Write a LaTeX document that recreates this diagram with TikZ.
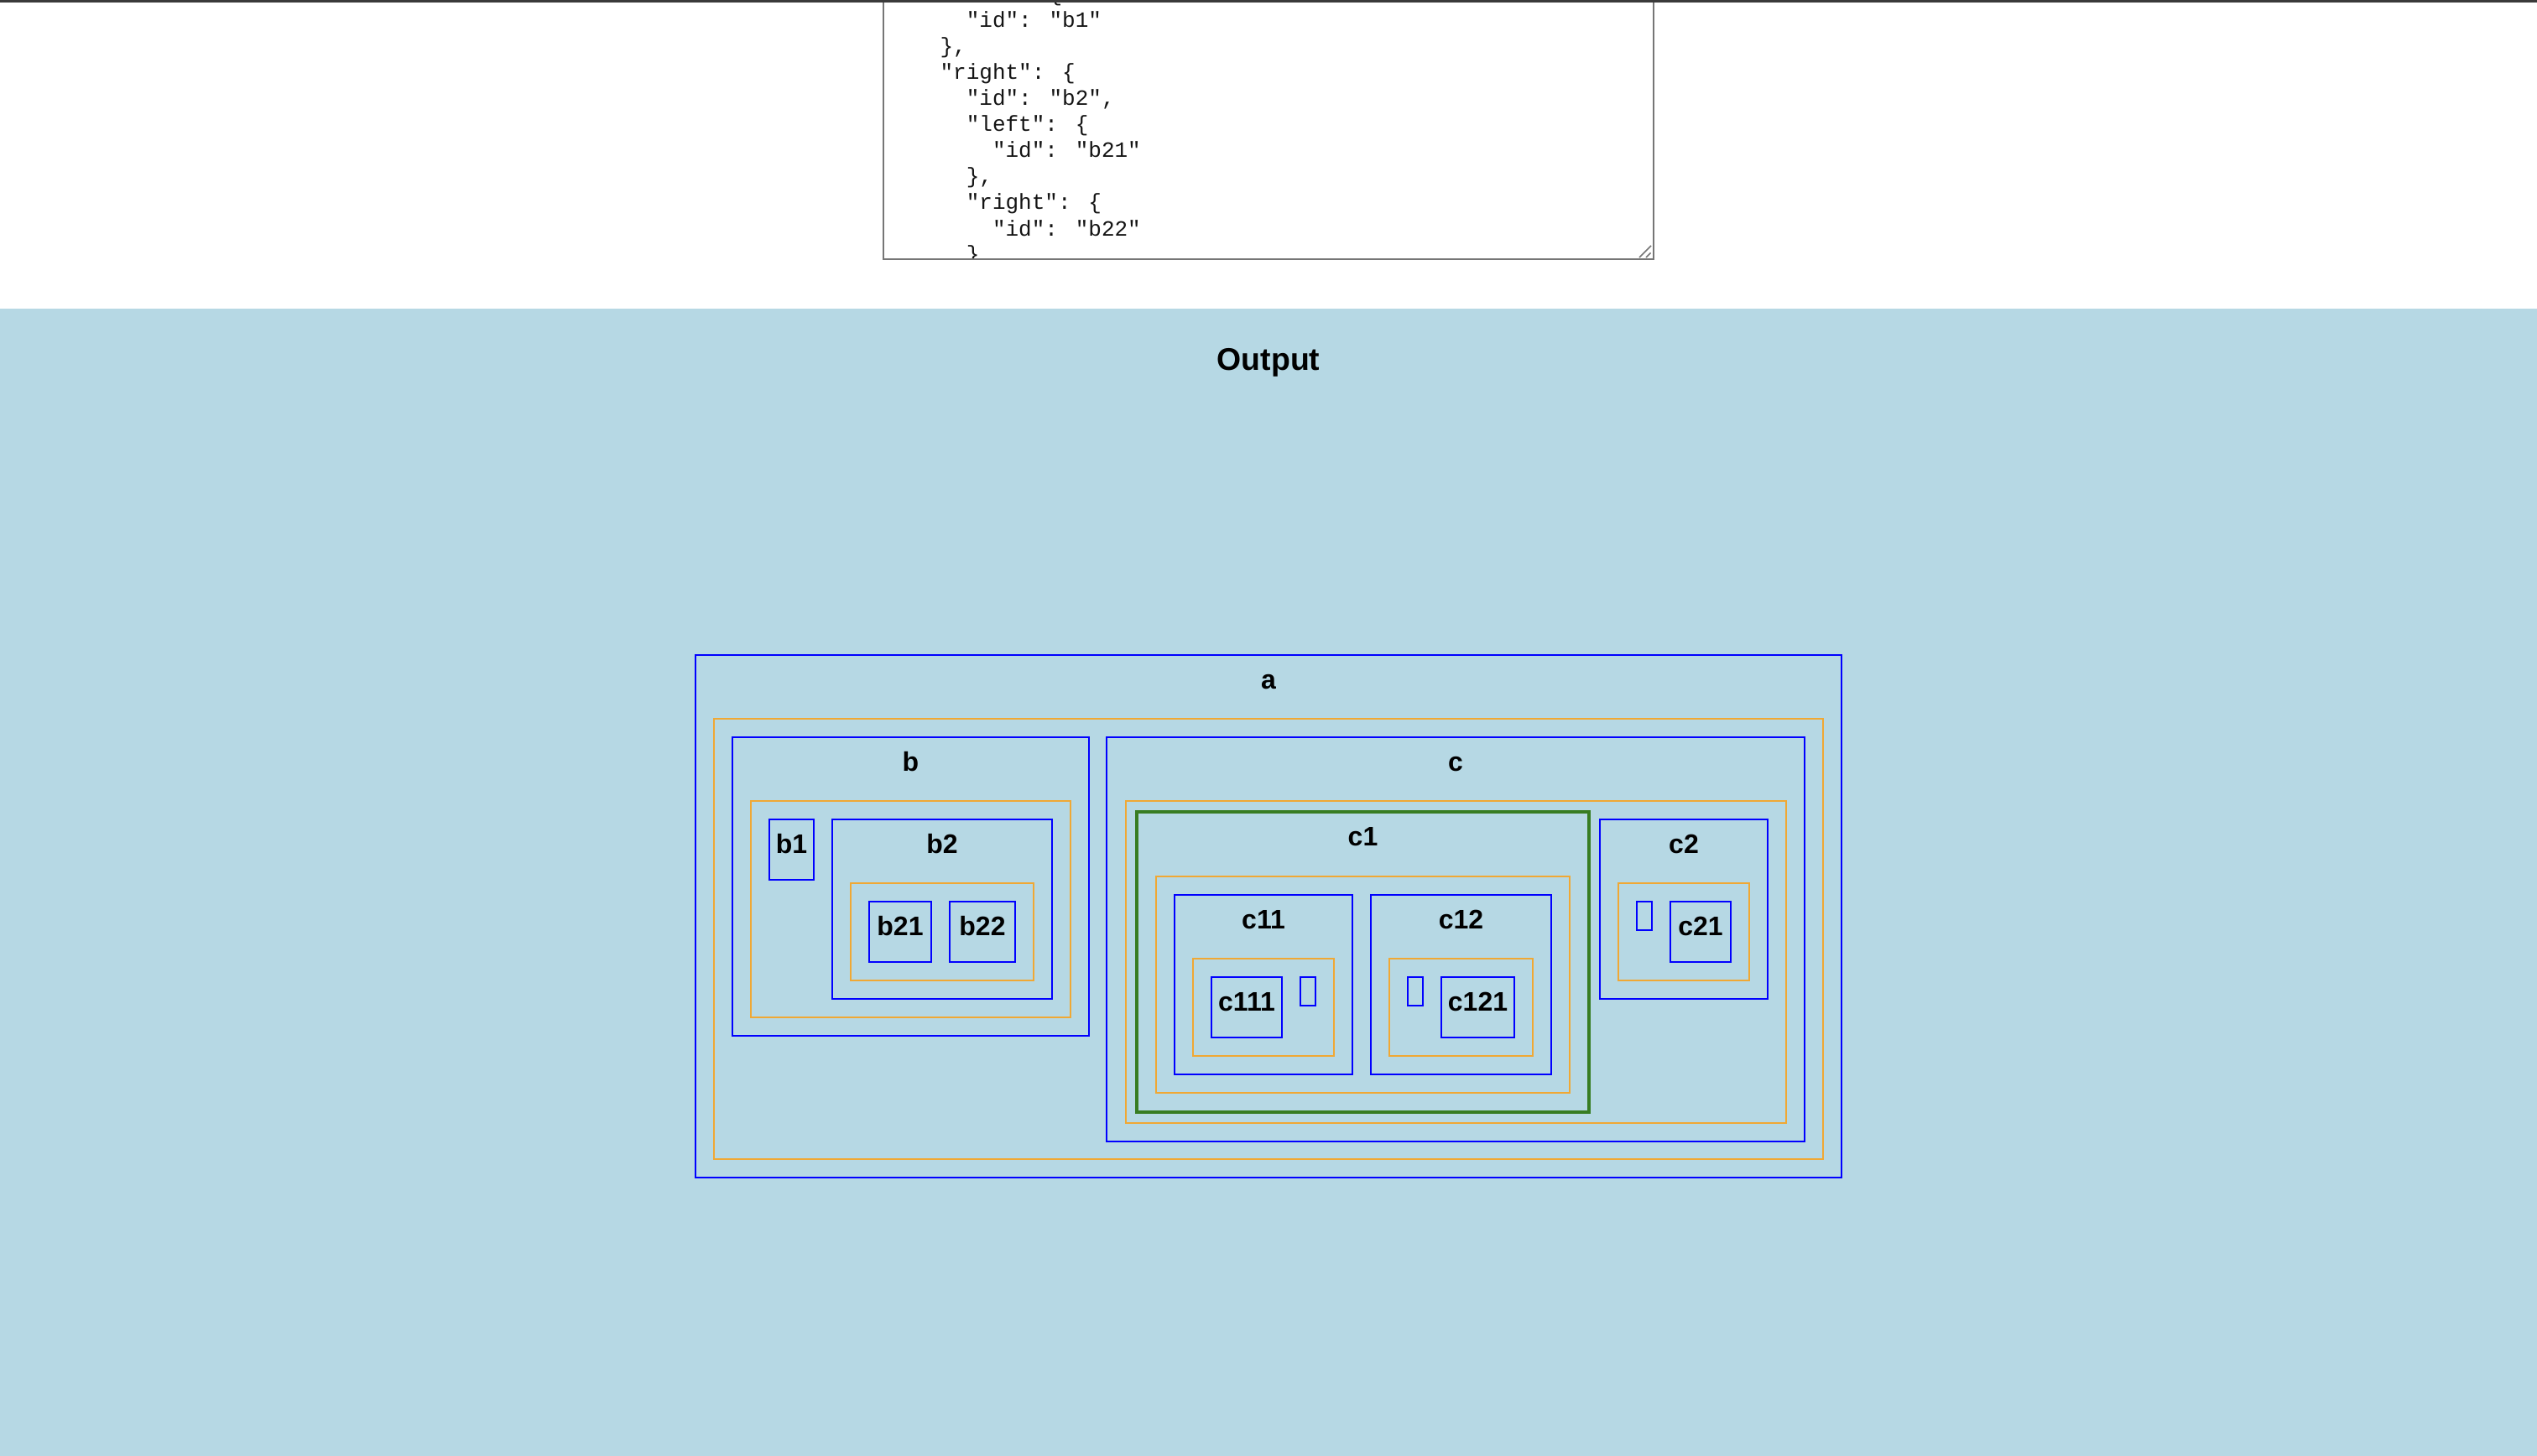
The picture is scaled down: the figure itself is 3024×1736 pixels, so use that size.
\documentclass[tikz,border=0pt]{standalone}
\usepackage{fontspec}
\setmainfont{Liberation Sans}
\newfontfamily\jsonmono{Liberation Mono}
\definecolor{bgblue}{RGB}{182,216,228}
\definecolor{boxorange}{RGB}{240,168,52}
\definecolor{boxgreen}{RGB}{56,125,34}
\definecolor{boxblue}{RGB}{0,0,255}
\definecolor{taborder}{RGB}{118,118,118}
\definecolor{topbar}{RGB}{58,58,58}
\definecolor{jsontext}{RGB}{20,20,20}
\tikzset{
  bluebox/.style={draw=boxblue, line width=2pt},
  orangebox/.style={draw=boxorange, line width=2pt},
  greenbox/.style={draw=boxgreen, line width=4pt},
  lbl/.style={anchor=base, inner sep=0pt, font=\bfseries\fontsize{32}{38}\selectfont},
  heading/.style={anchor=base, inner sep=0pt, font=\bfseries\fontsize{37.4}{44}\selectfont},
  jline/.style={anchor=base west, inner sep=0pt, text=jsontext, font=\jsonmono\fontsize{26}{31}\selectfont},
}
\begin{document}
\begin{tikzpicture}[x=1pt,y=-1pt]
\useasboundingbox (0,0) rectangle (3024,1736);
% backgrounds
\fill[white] (0,0) rectangle (3024,368);
\fill[bgblue] (0,368) rectangle (3024,1736);
% textarea content
\begin{scope}
\clip (1054,0) rectangle (1970,308.3);
\node[jline] (j0) at (1120.4,2) {"left": \{};
\node[jline] (j1) at (1151.6,33) {"id": "b1"};
\node[jline] (j2) at (1120.4,64) {\},};
\node[jline] (j3) at (1120.4,95) {"right": \{};
\node[jline] (j4) at (1151.6,126) {"id": "b2",};
\node[jline] (j5) at (1151.6,157) {"left": \{};
\node[jline] (j6) at (1182.8,188) {"id": "b21"};
\node[jline] (j7) at (1151.6,219) {\},};
\node[jline] (j8) at (1151.6,250) {"right": \{};
\node[jline] (j9) at (1182.8,281) {"id": "b22"};
\node[jline] (j10) at (1151.6,312) {\}};
\end{scope}
\draw[taborder, line width=2pt] (1053,-10) -- (1053,309.3) -- (1970.7,309.3) -- (1970.7,-10);
\draw[taborder, line width=1.5pt] (1954,307) -- (1968,293);
\draw[taborder, line width=1.5pt] (1962,307) -- (1967.5,301.5);
\fill[topbar] (0,0) rectangle (3024,3.5);
% heading
\node[heading] (out) at (1512,441) {Output};
% boxes
\draw[bluebox] (829,781) rectangle (2195,1404);
\draw[orangebox] (851,857) rectangle (2173,1382);
\draw[bluebox] (873,879) rectangle (1298,1235);
\draw[orangebox] (895,955) rectangle (1276,1213);
\draw[bluebox] (917,977) rectangle (970,1049);
\draw[bluebox] (992,977) rectangle (1254,1191);
\draw[orangebox] (1014,1053) rectangle (1232,1169);
\draw[bluebox] (1036,1075) rectangle (1110,1147);
\draw[bluebox] (1132,1075) rectangle (1210,1147);
\draw[bluebox] (1319,879) rectangle (2151,1361);
\draw[orangebox] (1342,955) rectangle (2129,1339);
\draw[greenbox] (1355,968) rectangle (1894,1326);
\draw[orangebox] (1378,1045) rectangle (1871,1303);
\draw[bluebox] (1400,1067) rectangle (1612,1281);
\draw[orangebox] (1422,1143) rectangle (1590,1259);
\draw[bluebox] (1444,1165) rectangle (1528,1237);
\draw[bluebox] (1550,1165) rectangle (1568,1199);
\draw[bluebox] (1634,1067) rectangle (1849,1281);
\draw[orangebox] (1656,1143) rectangle (1827,1259);
\draw[bluebox] (1678,1165) rectangle (1696,1199);
\draw[bluebox] (1718,1165) rectangle (1805,1237);
\draw[bluebox] (1907,977) rectangle (2107,1191);
\draw[orangebox] (1929,1053) rectangle (2085,1169);
\draw[bluebox] (1951,1075) rectangle (1969,1109);
\draw[bluebox] (1991,1075) rectangle (2063,1147);
% labels
\node[lbl] (la) at (1512,821) {a};
\node[lbl] (lb) at (1085.5,919) {b};
\node[lbl] (lb1) at (943.5,1017) {b1};
\node[lbl] (lb2) at (1123,1017) {b2};
\node[lbl] (lb21) at (1073,1115) {b21};
\node[lbl] (lb22) at (1171,1115) {b22};
\node[lbl] (lc) at (1735,919) {c};
\node[lbl] (lc1) at (1624.5,1008) {c1};
\node[lbl] (lc11) at (1506,1107) {c11};
\node[lbl] (lc12) at (1741.5,1107) {c12};
\node[lbl] (lc111) at (1486,1205) {c111};
\node[lbl] (lc121) at (1761.5,1205) {c121};
\node[lbl] (lc2) at (2007,1017) {c2};
\node[lbl] (lc21) at (2027,1115) {c21};
\end{tikzpicture}
\end{document}
